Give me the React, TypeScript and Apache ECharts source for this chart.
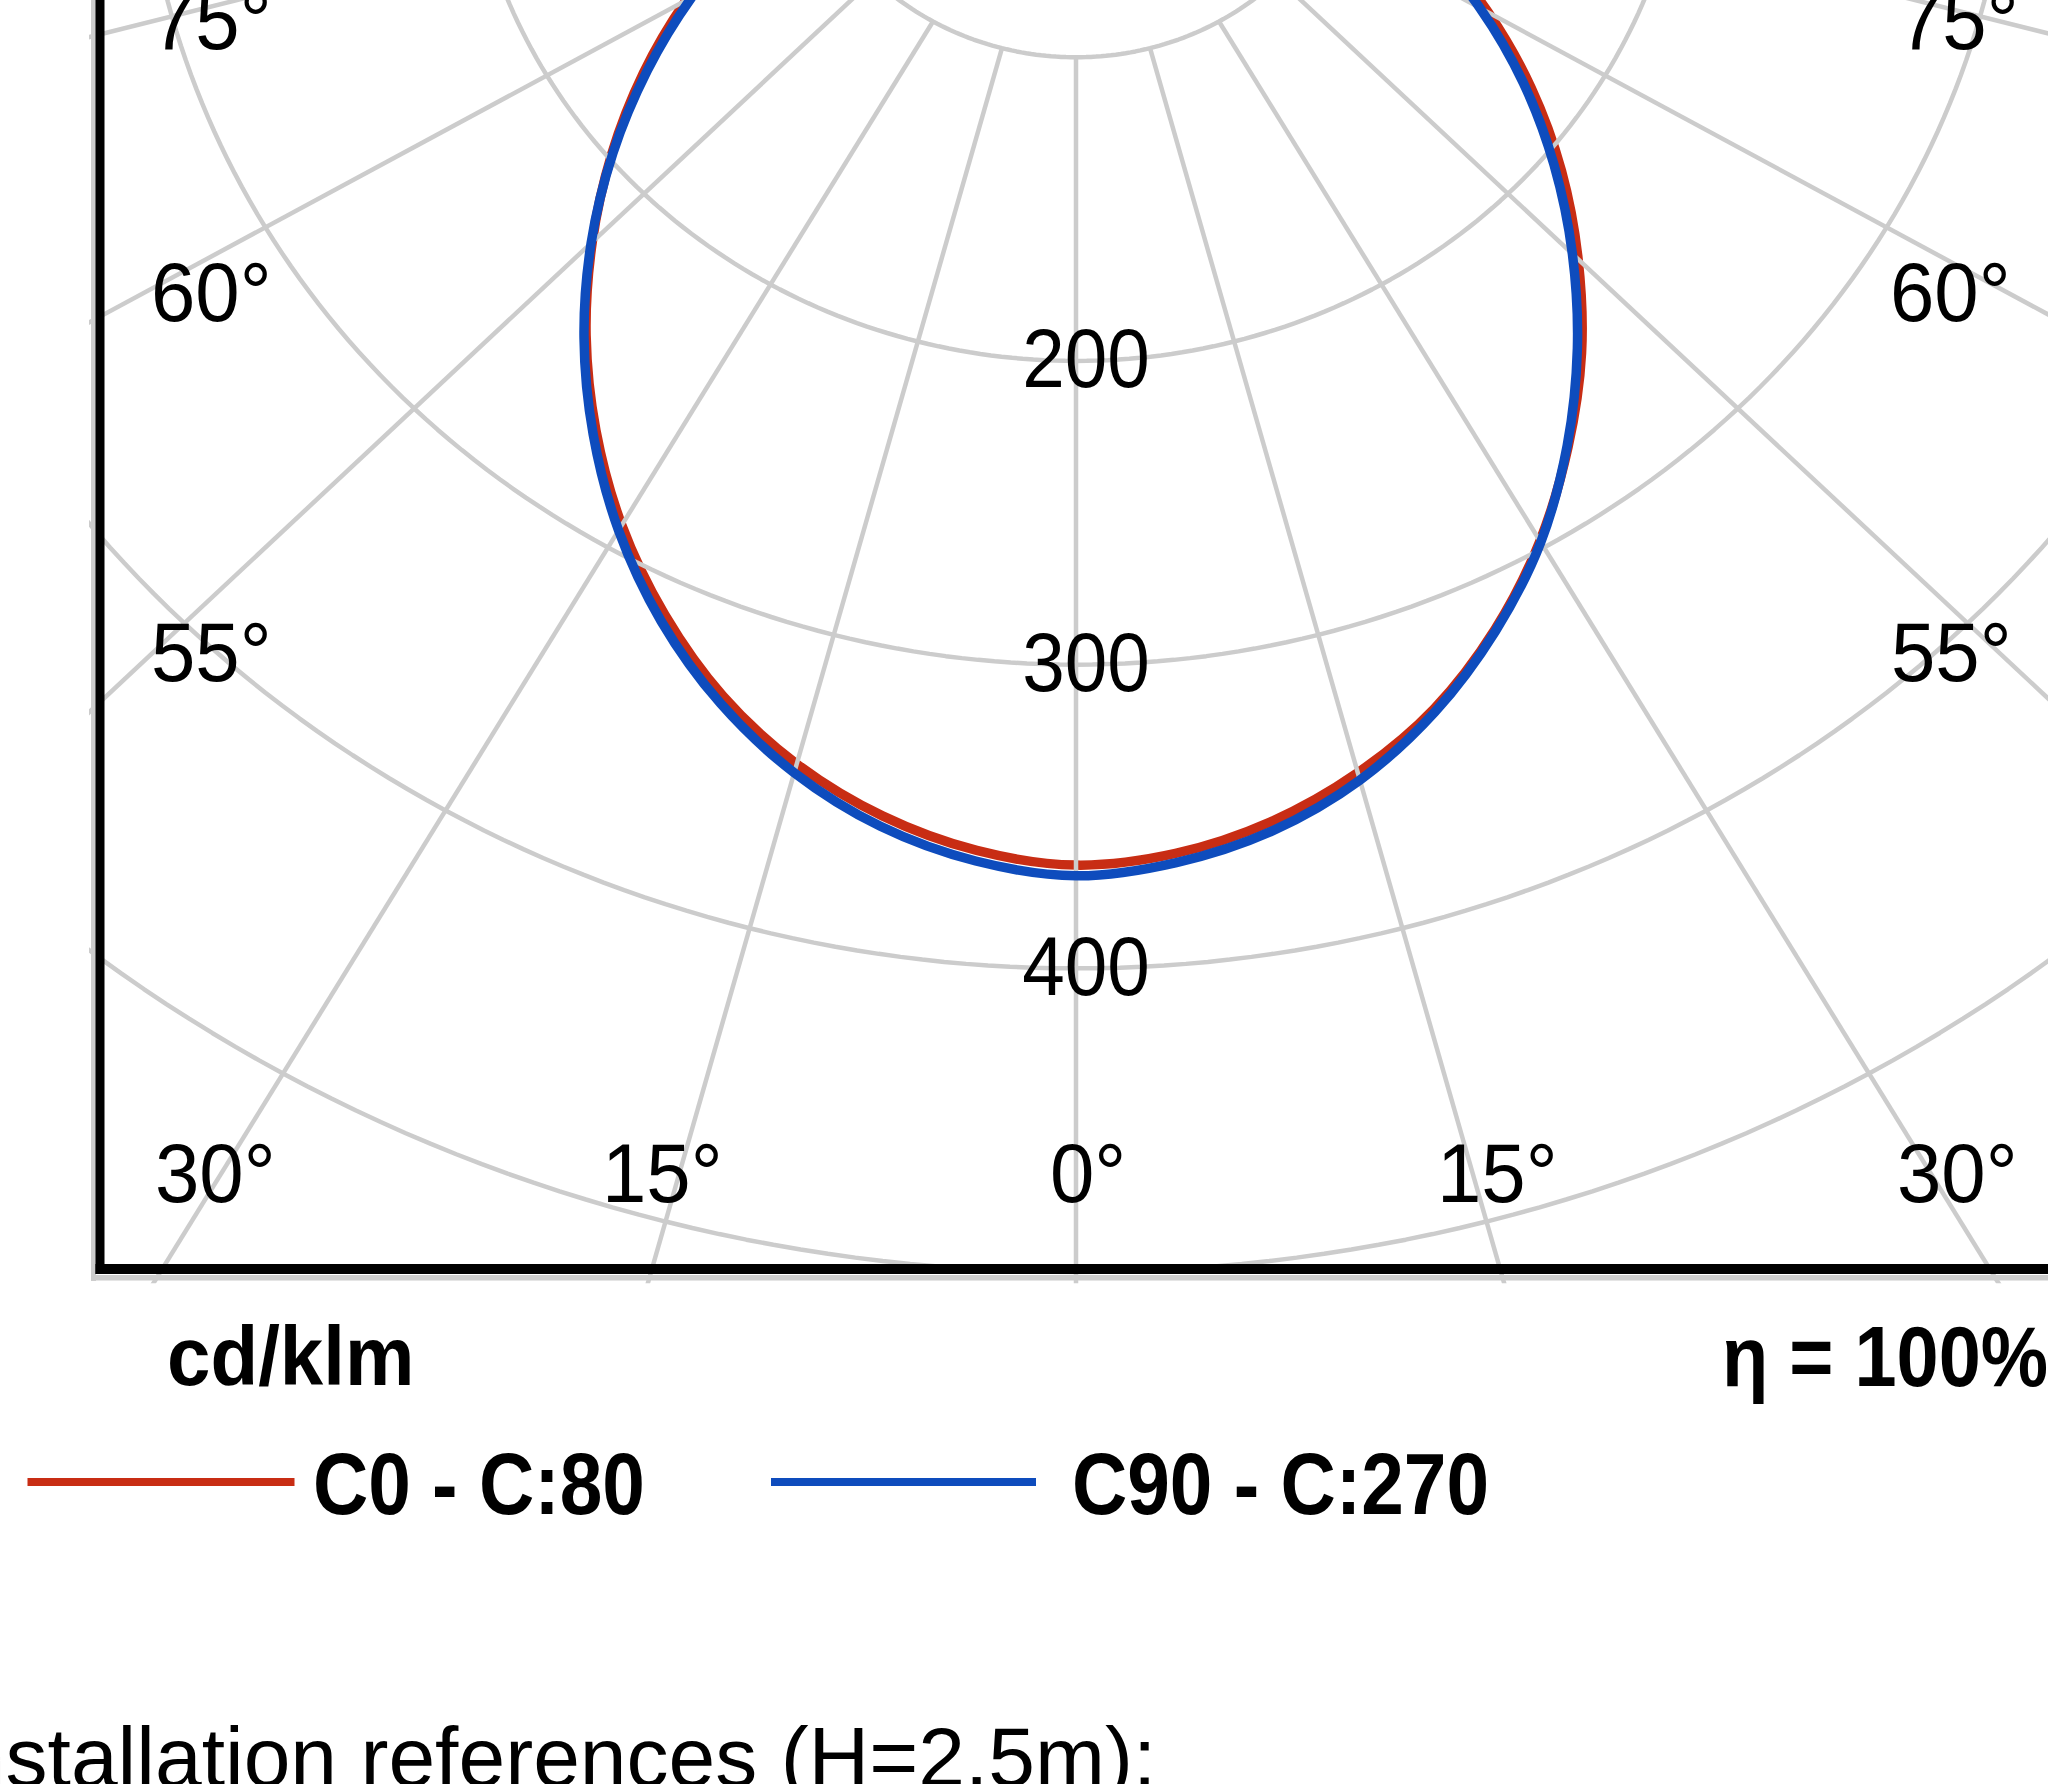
import React, { useEffect, useRef } from 'react';
import * as echarts from 'echarts';

// ---------- data (cd/klm) ----------
const GAMMA = [0, 5, 10, 15, 20, 25, 30, 35, 40, 45, 50, 55, 60, 65, 70, 75, 80, 85, 90];
const C0 = [366, 363.5, 357, 347, 334, 317, 297.5, 276, 254, 230.5, 207, 183, 158.5, 134, 109.5, 85, 60.5, 36.5, 0];
const C180 = [366, 362.5, 355, 344, 329.5, 311.5, 291.5, 269.5, 246.5, 222.5, 198.5, 174.5, 150.5, 126.5, 103, 80, 57, 34.5, 0];
const C90 = [369.5, 366.5, 360, 349.5, 335, 317.5, 298, 275.5, 252, 228, 204, 180, 155.5, 130.5, 106, 82, 58.5, 35, 0];
const C270 = [369.5, 366, 358.5, 347, 332, 314, 293.5, 271, 247.5, 223, 198, 173, 148.5, 124.5, 101, 78, 55.5, 33.5, 0];

const RING_VALUES = [100, 200, 300, 400, 500];
const RING_LABELS = [200, 300, 400];
const SPOKE_ANGLES = [-90, -75, -60, -45, -30, -15, 0, 15, 30, 45, 60, 75, 90];
const SIDE_LABELS = ['75°', '60°', '55°'];
const BOTTOM_LABELS = ['30°', '15°', '0°', '15°', '30°'];
const SERIES_NAMES = ['C0 - C:80', 'C90 - C:270'];
const UNIT_TEXT = 'cd/klm';
const EFFICIENCY_TEXT = 'η = 100%';
const FOOTER_TEXT = 'Installation references (H=2.5m):';

// ---------- layout ----------
const W = 2048;
const H = 1784;
const CX = 1076; // pixel x of diagram centre
const CY = -210; // pixel y of diagram centre (above the visible area)
const KX = 3.25; // px per cd/klm horizontally
const KY = 3.037; // px per cd/klm vertically
const R0 = 12; // radius axis start value
const PLOT_LEFT = 92;
const PLOT_BOTTOM = 1281;

const X_MIN = (PLOT_LEFT - CX) / KX;
const X_MAX = (W - CX) / KX;
const Y_MIN = (0 - CY) / KY;
const Y_MAX = (PLOT_BOTTOM - CY) / KY;

const FONT = '"Liberation Sans", Arial, Helvetica, sans-serif';
const GRID_COLOR = '#cccccc';
const RED = '#c82d14';
const BLUE = '#0e4cbd';

function toXY(angleDeg: number, value: number): number[] {
  const r = Math.max(value - R0, 0);
  const a = (angleDeg * Math.PI) / 180;
  return [r * Math.sin(a), r * Math.cos(a)];
}

function curve(left: number[], right: number[]): number[][] {
  const pts: number[][] = [];
  for (let i = GAMMA.length - 1; i >= 0; i--) pts.push(toXY(-GAMMA[i], left[i]));
  for (let i = 1; i < GAMMA.length; i++) pts.push(toXY(GAMMA[i], right[i]));
  return pts;
}

function ring(v: number): number[][] {
  const pts: number[][] = [];
  for (let a = -90; a <= 90; a += 1) pts.push(toXY(a, v));
  return pts;
}

// smooth (Catmull-Rom) path through pixel points
function smoothPath(pts: number[][]): string {
  let d = `M${pts[0][0]},${pts[0][1]}`;
  for (let i = 0; i < pts.length - 1; i++) {
    const p0 = pts[i - 1] || pts[i];
    const p1 = pts[i];
    const p2 = pts[i + 1];
    const p3 = pts[i + 2] || p2;
    const c1x = p1[0] + (p2[0] - p0[0]) / 6;
    const c1y = p1[1] + (p2[1] - p0[1]) / 6;
    const c2x = p2[0] - (p3[0] - p1[0]) / 6;
    const c2y = p2[1] - (p3[1] - p1[1]) / 6;
    d += ` C${c1x},${c1y} ${c2x},${c2y} ${p2[0]},${p2[1]}`;
  }
  return d;
}

function txt(
  text: string,
  x: number,
  baseline: number,
  size: number,
  weight: string,
  sx: number,
  align: string = 'left'
) {
  return {
    type: 'text',
    x,
    y: baseline - 0.3465 * size,
    scaleX: sx,
    z: 100,
    style: {
      text,
      fontSize: size,
      fontFamily: FONT,
      fontWeight: weight,
      fill: '#000000',
      align,
      verticalAlign: 'middle',
    },
  };
}

// photometric curve: every data point mapped by the chart's axes, joined smoothly
function curveSeries(name: string, pts: number[][], color: string, z: number) {
  const anchor = GAMMA.length - 1; // the 0° point, inside the plot
  return {
    name,
    type: 'custom',
    data: pts,
    encode: { x: 0, y: 1 },
    z,
    silent: true,
    renderItem: (params: any, api: any) => {
      if (params.dataIndex !== anchor) return null;
      const pixels = pts.map((p) => api.coord(p));
      return {
        type: 'path',
        shape: { pathData: smoothPath(pixels) },
        style: { stroke: color, lineWidth: 9.5, fill: 'none', lineJoin: 'round' },
      };
    },
  };
}

export default function App() {
  const ref = useRef<HTMLDivElement>(null);

  useEffect(() => {
    if (!ref.current) return;
    const chart = echarts.init(ref.current, null, { renderer: 'svg' });

    const series: any[] = [];
    series.push(curveSeries(SERIES_NAMES[0], curve(C180, C0), RED, 2));
    RING_VALUES.forEach((v) => {
      series.push({
        type: 'line',
        data: ring(v),
        showSymbol: false,
        z: 3,
        lineStyle: { color: GRID_COLOR, width: 4.5 },
        silent: true,
      });
    });
    SPOKE_ANGLES.forEach((a) => {
      series.push({
        type: 'line',
        data: [toXY(a, RING_VALUES[0]), toXY(a, 1500)],
        showSymbol: false,
        z: 3,
        lineStyle: { color: GRID_COLOR, width: 4.5 },
        silent: true,
      });
    });
    series.push(curveSeries(SERIES_NAMES[1], curve(C270, C90), BLUE, 4));

    chart.setOption({
      animation: false,
      backgroundColor: '#ffffff',
      grid: { left: PLOT_LEFT, top: 0, right: 0, bottom: H - PLOT_BOTTOM, show: false },
      xAxis: { type: 'value', min: X_MIN, max: X_MAX, show: false, splitLine: { show: false } },
      yAxis: { type: 'value', inverse: true, min: Y_MIN, max: Y_MAX, show: false, splitLine: { show: false } },
      series,
    });

    const sideX = [
      [151, 1898],
      [151, 1890],
      [151, 1891],
    ];
    const sideBase = [49, 321, 681];
    const bottomX = [155, 602, 1050, 1437, 1897];

    const elements: any[] = [
      // frame
      { type: 'rect', z: 99, shape: { x: 91, y: -10, width: 5, height: 1291 }, style: { fill: GRID_COLOR } },
      { type: 'rect', z: 99, shape: { x: 91, y: 1275, width: 1970, height: 5.5 }, style: { fill: GRID_COLOR } },
      { type: 'rect', z: 100, shape: { x: 95.5, y: -10, width: 9, height: 1284 }, style: { fill: '#000000' } },
      { type: 'rect', z: 100, shape: { x: 95.5, y: 1264, width: 1970, height: 10 }, style: { fill: '#000000' } },
      // legend line icons
      { type: 'rect', z: 100, shape: { x: 27.5, y: 1478, width: 267, height: 8 }, style: { fill: RED } },
      { type: 'rect', z: 100, shape: { x: 771, y: 1478, width: 265, height: 8 }, style: { fill: BLUE } },
    ];

    // ring value labels, placed on the rings through the chart's own scales
    RING_LABELS.forEach((v) => {
      const p = chart.convertToPixel({ gridIndex: 0 }, toXY(0, v)) as number[];
      elements.push({
        type: 'text',
        x: p[0] + 10,
        y: p[1] - 3,
        scaleX: 0.91,
        z: 100,
        style: {
          text: String(v),
          fontSize: 84,
          fontFamily: FONT,
          fill: '#000000',
          align: 'center',
          verticalAlign: 'middle',
        },
      });
    });

    SIDE_LABELS.forEach((t, i) => {
      elements.push(txt(t, sideX[i][0], sideBase[i], 84, 'normal', 0.95));
      elements.push(txt(t, sideX[i][1], sideBase[i], 84, 'normal', 0.95));
    });
    BOTTOM_LABELS.forEach((t, i) => {
      elements.push(txt(t, bottomX[i], 1202, 84, 'normal', 0.95));
    });
    elements.push(txt(UNIT_TEXT, 167, 1385, 84, 'bold', 0.93));
    elements.push(txt(EFFICIENCY_TEXT, 1722, 1386, 86, 'bold', 0.88));
    elements.push(txt(SERIES_NAMES[0], 313, 1514, 88, 'bold', 0.87));
    elements.push(txt(SERIES_NAMES[1], 1072, 1514, 88, 'bold', 0.87));
    elements.push(txt(FOOTER_TEXT, -64.5, 1786, 84, 'normal', 1));

    chart.setOption({ graphic: { elements } });

    return () => chart.dispose();
  }, []);

  return (
    <div
      ref={ref}
      style={{ position: 'absolute', left: 0, top: 0, width: W, height: H, background: '#ffffff' }}
    />
  );
}
